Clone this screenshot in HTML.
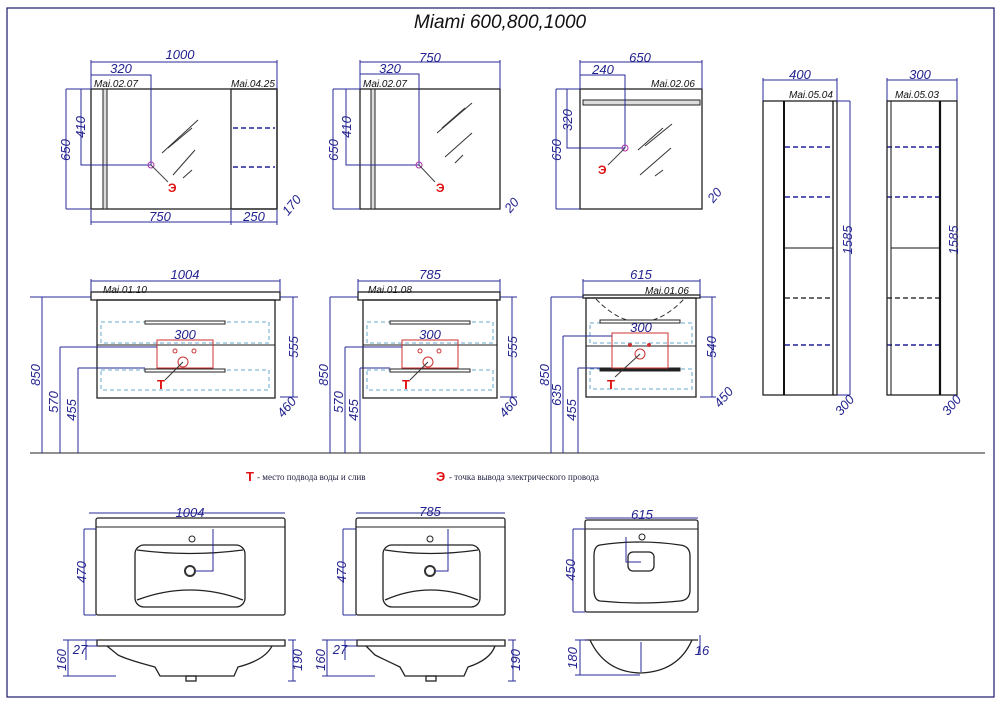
<!DOCTYPE html>
<html><head><meta charset="utf-8"><style>
body{margin:0;background:#fff}
svg{display:block}
text{font-family:"Liberation Sans",sans-serif;font-style:italic}
.d{stroke:#2a2a9a;stroke-width:1;fill:none}
.k{stroke:#222;stroke-width:1.3;fill:none}
.t{fill:#23238f;font-size:13px}
.s{fill:#111;font-size:10px}
.r{fill:#e01010;font-weight:bold;font-style:normal;font-size:13px}
.lg{font-family:"Liberation Serif",serif;font-style:normal;font-size:9px;fill:#224}
</style></head><body>
<svg width="999" height="706" viewBox="0 0 999 706" xmlns="http://www.w3.org/2000/svg">
<rect x="7" y="8" width="987" height="689" fill="none" stroke="#1a1a6a" stroke-width="1.2"/>
<text x="500" y="28" text-anchor="middle" font-size="19" fill="#111">Miami 600,800,1000</text>

<!-- Mirror 1 -->
<rect class="k" x="91" y="89" width="186" height="120"/>
<rect x="103" y="89" width="4" height="120" fill="#ddd" stroke="#222"/>
<rect class="k" x="231" y="89" width="46" height="120"/>
<line x1="233" y1="128" x2="275" y2="128" stroke="#22229a" stroke-width="1.5" stroke-dasharray="5,3"/>
<line x1="233" y1="167" x2="275" y2="167" stroke="#22229a" stroke-width="1.5" stroke-dasharray="5,3"/>
<g stroke="#333" stroke-width="1"><line x1="168" y1="148" x2="192" y2="128"/><line x1="162" y1="153" x2="198" y2="120"/><line x1="173" y1="175" x2="195" y2="150"/><line x1="183" y1="178" x2="192" y2="170"/></g>
<path class="d" d="M91 62H277M91 60V89M277 60V89M91 75H151V165M66 89H91M66 209H91M66 89V209M81 89V165H151M91 222H277M231 210V225M91 210V225M277 210V225"/>
<circle cx="151" cy="165" r="3" fill="none" stroke="#b030b0"/><line x1="151" y1="165" x2="168" y2="182" stroke="#444"/>
<text x="168" y="192" class="r" style="font-size:12px">Э</text>
<text class="t" x="180" y="59" text-anchor="middle">1000</text><text class="t" x="121" y="73" text-anchor="middle">320</text>
<text class="s" x="94" y="87">Mai.02.07</text><text class="s" x="231" y="87">Mai.04.25</text>
<text class="t" transform="translate(70,150) rotate(-90)" text-anchor="middle">650</text>
<text class="t" transform="translate(85,127) rotate(-90)" text-anchor="middle">410</text>
<text class="t" x="160" y="221" text-anchor="middle">750</text><text class="t" x="254" y="221" text-anchor="middle">250</text>
<text class="t" transform="translate(295,208) rotate(-50)" text-anchor="middle">170</text>

<!-- Mirror 2 -->
<rect class="k" x="360" y="89" width="140" height="120"/>
<rect x="371" y="89" width="4" height="120" fill="#ddd" stroke="#222"/>
<g stroke="#333"><line x1="442" y1="128" x2="465" y2="108"/><line x1="437" y1="133" x2="472" y2="103"/><line x1="445" y1="157" x2="472" y2="133"/><line x1="455" y1="163" x2="463" y2="155"/></g>
<path class="d" d="M360 62H500M360 60V89M500 60V89M360 74H419V165M333 89H360M333 209H360M333 89V209M346 89V165H419"/>
<circle cx="419" cy="165" r="3" fill="none" stroke="#b030b0"/><line x1="419" y1="165" x2="435" y2="182" stroke="#444"/>
<text x="436" y="192" class="r" style="font-size:12px">Э</text>
<text class="t" x="430" y="62" text-anchor="middle">750</text><text class="t" x="390" y="73" text-anchor="middle">320</text>
<text class="s" x="363" y="87">Mai.02.07</text>
<text class="t" transform="translate(338,150) rotate(-90)" text-anchor="middle">650</text>
<text class="t" transform="translate(351,127) rotate(-90)" text-anchor="middle">410</text>
<text class="t" transform="translate(515,208) rotate(-50)" text-anchor="middle">20</text>

<!-- Mirror 3 -->
<rect class="k" x="580" y="89" width="122" height="120"/>
<rect x="583" y="100" width="117" height="5" fill="#ddd" stroke="#222"/>
<g stroke="#333"><line x1="638" y1="150" x2="663" y2="128"/><line x1="645" y1="146" x2="672" y2="124"/><line x1="640" y1="175" x2="671" y2="148"/><line x1="655" y1="176" x2="663" y2="170"/></g>
<path class="d" d="M580 62H702M580 60V89M702 60V89M580 75H625V148M556 89H580M556 209H580M556 89V209M567 89V148H625"/>
<circle cx="625" cy="148" r="3" fill="none" stroke="#b030b0"/><line x1="625" y1="148" x2="608" y2="165" stroke="#444"/>
<text x="598" y="174" class="r" style="font-size:12px">Э</text>
<text class="t" x="640" y="62" text-anchor="middle">650</text><text class="t" x="603" y="74" text-anchor="middle">240</text>
<text class="s" x="651" y="87">Mai.02.06</text>
<text class="t" transform="translate(561,150) rotate(-90)" text-anchor="middle">650</text>
<text class="t" transform="translate(572,120) rotate(-90)" text-anchor="middle">320</text>
<text class="t" transform="translate(718,198) rotate(-50)" text-anchor="middle">20</text>

<!-- Tall 1 -->
<rect class="k" x="763" y="101" width="74" height="294"/>
<line x1="784" y1="101" x2="784" y2="395" stroke="#111" stroke-width="2"/>
<line x1="833" y1="101" x2="833" y2="395" stroke="#111" stroke-width="1.3"/>
<line x1="785" y1="248" x2="833" y2="248" stroke="#111"/>
<line x1="837" y1="101" x2="850" y2="101" class="d"/><line x1="837" y1="395" x2="850" y2="395" class="d"/><line x1="850" y1="101" x2="850" y2="395" class="d"/>
<g stroke="#22229a" stroke-width="1.5" stroke-dasharray="5,3"><line x1="785" y1="147" x2="833" y2="147"/><line x1="785" y1="197" x2="833" y2="197"/><line x1="785" y1="345" x2="833" y2="345"/><line x1="887" y1="147" x2="940" y2="147"/><line x1="887" y1="197" x2="940" y2="197"/><line x1="887" y1="345" x2="940" y2="345"/></g>
<g stroke="#111" stroke-width="1.3" stroke-dasharray="5,3"><line x1="785" y1="298" x2="833" y2="298"/><line x1="887" y1="298" x2="940" y2="298"/></g>
<path class="d" d="M763 80H837M763 78V101M837 78V101M887 80H957M887 78V101M957 78V101"/>
<text class="t" x="800" y="79" text-anchor="middle">400</text><text class="s" x="789" y="98">Mai.05.04</text>
<text class="t" transform="translate(852,240) rotate(-90)" text-anchor="middle">1585</text>
<text class="t" transform="translate(848,408) rotate(-50)" text-anchor="middle">300</text>
<!-- Tall 2 -->
<rect class="k" x="887" y="101" width="70" height="294"/>
<line x1="891" y1="101" x2="891" y2="395" stroke="#111"/>
<line x1="940" y1="101" x2="940" y2="395" stroke="#111" stroke-width="2.2"/>
<line x1="891" y1="248" x2="940" y2="248" stroke="#111"/>
<text class="t" x="920" y="79" text-anchor="middle">300</text><text class="s" x="895" y="98">Mai.05.03</text>
<text class="t" transform="translate(958,240) rotate(-90)" text-anchor="middle">1585</text>
<text class="t" transform="translate(955,408) rotate(-50)" text-anchor="middle">300</text>

<!-- floor -->
<line x1="30" y1="453" x2="985" y2="453" stroke="#222"/>

<!-- Vanity 1 -->
<rect class="k" x="91" y="292" width="189" height="8"/>
<rect class="k" x="97" y="300" width="178" height="98"/>
<line x1="97" y1="345" x2="275" y2="345" stroke="#222"/>
<rect x="101" y="322" width="168" height="21" fill="none" stroke="#6ac" stroke-dasharray="4,3"/>
<rect x="101" y="370" width="168" height="20" fill="none" stroke="#6ac" stroke-dasharray="4,3"/>
<rect x="145" y="321" width="80" height="3" fill="#fff" stroke="#222"/><rect x="145" y="369" width="80" height="3" fill="#fff" stroke="#222"/>
<rect x="157" y="340" width="56" height="28" fill="none" stroke="#c33"/>
<circle cx="175" cy="351" r="2" fill="none" stroke="#c33"/><circle cx="194" cy="351" r="2" fill="none" stroke="#c33"/><circle cx="183" cy="362" r="5" fill="none" stroke="#c33"/>
<line x1="183" y1="362" x2="165" y2="380" stroke="#333"/>
<text x="157" y="389" class="r">T</text>
<path class="d" d="M91 281H280M91 279V292M280 279V292M42 297V453M30 297H91M60 347V453M60 347H157M78 368V453M78 368H145M293 297V397M280 297H298M280 397H298"/>
<text class="t" x="185" y="279" text-anchor="middle">1004</text><text class="t" x="185" y="339" text-anchor="middle">300</text><text class="s" x="103" y="293">Mai.01.10</text>
<text class="t" transform="translate(40,375) rotate(-90)" text-anchor="middle">850</text>
<text class="t" transform="translate(58,402) rotate(-90)" text-anchor="middle">570</text>
<text class="t" transform="translate(76,410) rotate(-90)" text-anchor="middle">455</text>
<text class="t" transform="translate(298,347) rotate(-90)" text-anchor="middle">555</text>
<text class="t" transform="translate(290,410) rotate(-50)" text-anchor="middle">460</text>

<!-- Vanity 2 -->
<rect class="k" x="358" y="292" width="142" height="8"/>
<rect class="k" x="363" y="300" width="134" height="98"/>
<line x1="363" y1="345" x2="497" y2="345" stroke="#222"/>
<rect x="367" y="322" width="126" height="21" fill="none" stroke="#6ac" stroke-dasharray="4,3"/>
<rect x="367" y="370" width="126" height="20" fill="none" stroke="#6ac" stroke-dasharray="4,3"/>
<rect x="390" y="321" width="80" height="3" fill="#fff" stroke="#222"/><rect x="390" y="369" width="80" height="3" fill="#fff" stroke="#222"/>
<rect x="402" y="340" width="56" height="28" fill="none" stroke="#c33"/>
<circle cx="420" cy="351" r="2" fill="none" stroke="#c33"/><circle cx="439" cy="351" r="2" fill="none" stroke="#c33"/><circle cx="428" cy="362" r="5" fill="none" stroke="#c33"/>
<line x1="428" y1="362" x2="410" y2="380" stroke="#333"/>
<text x="402" y="389" class="r">T</text>
<path class="d" d="M358 281H500M358 279V292M500 279V292M330 297V453M330 297H358M345 347V453M345 347H402M360 368V453M360 368H390M512 297V397M500 297H517M500 397H517"/>
<text class="t" x="430" y="279" text-anchor="middle">785</text><text class="t" x="430" y="339" text-anchor="middle">300</text><text class="s" x="368" y="293">Mai.01.08</text>
<text class="t" transform="translate(328,375) rotate(-90)" text-anchor="middle">850</text>
<text class="t" transform="translate(343,402) rotate(-90)" text-anchor="middle">570</text>
<text class="t" transform="translate(358,410) rotate(-90)" text-anchor="middle">455</text>
<text class="t" transform="translate(517,347) rotate(-90)" text-anchor="middle">555</text>
<text class="t" transform="translate(512,410) rotate(-50)" text-anchor="middle">460</text>

<!-- Vanity 3 -->
<rect class="k" x="583" y="295" width="117" height="3"/>
<rect class="k" x="586" y="298" width="110" height="99"/>
<path d="M596 299Q640 345 684 299" fill="none" stroke="#333" stroke-dasharray="5,3"/>
<line x1="586" y1="346" x2="696" y2="346" stroke="#222"/>
<rect x="590" y="323" width="102" height="20" fill="none" stroke="#6ac" stroke-dasharray="4,3"/>
<rect x="590" y="369" width="102" height="20" fill="none" stroke="#6ac" stroke-dasharray="4,3"/>
<rect x="600" y="320" width="80" height="3" fill="#fff" stroke="#222"/><rect x="600" y="368" width="80" height="3" fill="#222" stroke="#222"/>
<rect x="612" y="333" width="56" height="35" fill="none" stroke="#c33"/>
<circle cx="630" cy="345" r="2" fill="#c33"/><circle cx="649" cy="345" r="2" fill="#c33"/><circle cx="640" cy="354" r="5" fill="none" stroke="#c33"/>
<line x1="640" y1="354" x2="615" y2="377" stroke="#333"/>
<text x="607" y="389" class="r">T</text>
<path class="d" d="M583 281H700M583 279V295M700 279V295M551 297V453M551 297H583M563 336V453M563 336H612M578 368V453M578 368H600M712 297V397M700 297H716M700 397H716"/>
<text class="t" x="641" y="279" text-anchor="middle">615</text><text class="t" x="641" y="332" text-anchor="middle">300</text><text class="s" x="645" y="294">Mai.01.06</text>
<text class="t" transform="translate(549,375) rotate(-90)" text-anchor="middle">850</text>
<text class="t" transform="translate(561,395) rotate(-90)" text-anchor="middle">635</text>
<text class="t" transform="translate(576,410) rotate(-90)" text-anchor="middle">455</text>
<text class="t" transform="translate(716,347) rotate(-90)" text-anchor="middle">540</text>
<text class="t" transform="translate(727,400) rotate(-50)" text-anchor="middle">450</text>

<!-- legend -->
<text x="246" y="481" class="r">T</text>
<text x="257" y="480" class="lg">- место подвода воды и слив</text>
<text x="436" y="481" class="r">Э</text>
<text x="449" y="480" class="lg">-  точка вывода электрического провода</text>

<!-- Basin 1 -->
<rect class="k" x="96" y="518" width="189" height="97" rx="2"/><line x1="96" y1="527" x2="285" y2="527" stroke="#222"/>
<rect class="k" x="135" y="545" width="110" height="62" rx="9"/>
<path class="k" d="M137 550Q190 557 243 550M137 600Q190 580 243 600"/>
<circle cx="192" cy="539" r="3" fill="none" stroke="#222"/><circle cx="190" cy="571" r="5" fill="none" stroke="#333" stroke-width="2"/>
<path class="d" d="M213 529V571H195M84 529H96M84 615H96M84 529V615M89 513H285"/>
<text class="t" x="190" y="517" text-anchor="middle">1004</text>
<text class="t" transform="translate(86,572) rotate(-90)" text-anchor="middle">470</text>
<path class="k" d="M97 640H285V646H97ZM107 646L118 655Q128 660 155 667L160 676H234L238 667Q265 660 272 646"/>
<rect class="k" x="186" y="676" width="10" height="5"/>
<path class="d" d="M63 640H97M63 676H116M68 640V676M86 646H98M86 640V660M288 640H296M288 681H296M293 640V681"/>
<text class="t" transform="translate(66,660) rotate(-90)" text-anchor="middle">160</text>
<text class="t" x="80" y="654" text-anchor="middle">27</text>
<text class="t" transform="translate(302,660) rotate(-90)" text-anchor="middle">190</text>

<!-- Basin 2 -->
<rect class="k" x="356" y="518" width="149" height="97" rx="2"/><line x1="356" y1="527" x2="505" y2="527" stroke="#222"/>
<rect class="k" x="383" y="545" width="97" height="62" rx="9"/>
<path class="k" d="M385 550Q430 557 478 550M385 600Q430 580 478 600"/>
<circle cx="430" cy="539" r="3" fill="none" stroke="#222"/><circle cx="430" cy="571" r="5" fill="none" stroke="#333" stroke-width="2"/>
<path class="d" d="M448 529V571H435M343 529H356M343 615H356M343 529V615M356 513H505"/>
<text class="t" x="430" y="516" text-anchor="middle">785</text>
<text class="t" transform="translate(346,572) rotate(-90)" text-anchor="middle">470</text>
<path class="k" d="M357 640H505V646H357ZM366 646L375 655Q385 660 400 667L405 676H464L468 667Q490 660 495 646"/>
<rect class="k" x="426" y="676" width="10" height="5"/>
<path class="d" d="M322 640H357M322 676H375M327 640V676M345 646H357M345 640V660M508 640H516M508 681H516M513 640V681"/>
<text class="t" transform="translate(325,660) rotate(-90)" text-anchor="middle">160</text>
<text class="t" x="340" y="654" text-anchor="middle">27</text>
<text class="t" transform="translate(520,660) rotate(-90)" text-anchor="middle">190</text>

<!-- Basin 3 -->
<rect class="k" x="585" y="520" width="113" height="92" rx="2"/><line x1="585" y1="529" x2="698" y2="529" stroke="#222"/>
<path class="k" d="M600 545Q640 539 680 545Q690 546 690 556V590Q690 600 680 601Q640 605 600 601Q594 600 594 590V556Q594 546 600 545Z"/>
<rect class="k" x="628" y="552" width="26" height="19" rx="5"/>
<circle cx="642" cy="537" r="3" fill="none" stroke="#222"/>
<path class="d" d="M626 537V562H641M573 529H585M573 612H585M573 529V612M585 518H698"/>
<text class="t" x="642" y="519" text-anchor="middle">615</text>
<text class="t" transform="translate(575,570) rotate(-90)" text-anchor="middle">450</text>
<path class="k" d="M585 640H698M590 640Q605 672 640 673Q678 672 692 640"/>
<path class="d" d="M575 640H588M575 675H640M580 640V675M641 642V672M700 635V655"/>
<text class="t" transform="translate(577,658) rotate(-90)" text-anchor="middle">180</text>
<text class="t" x="702" y="655" text-anchor="middle">16</text>
</svg>
</body></html>
